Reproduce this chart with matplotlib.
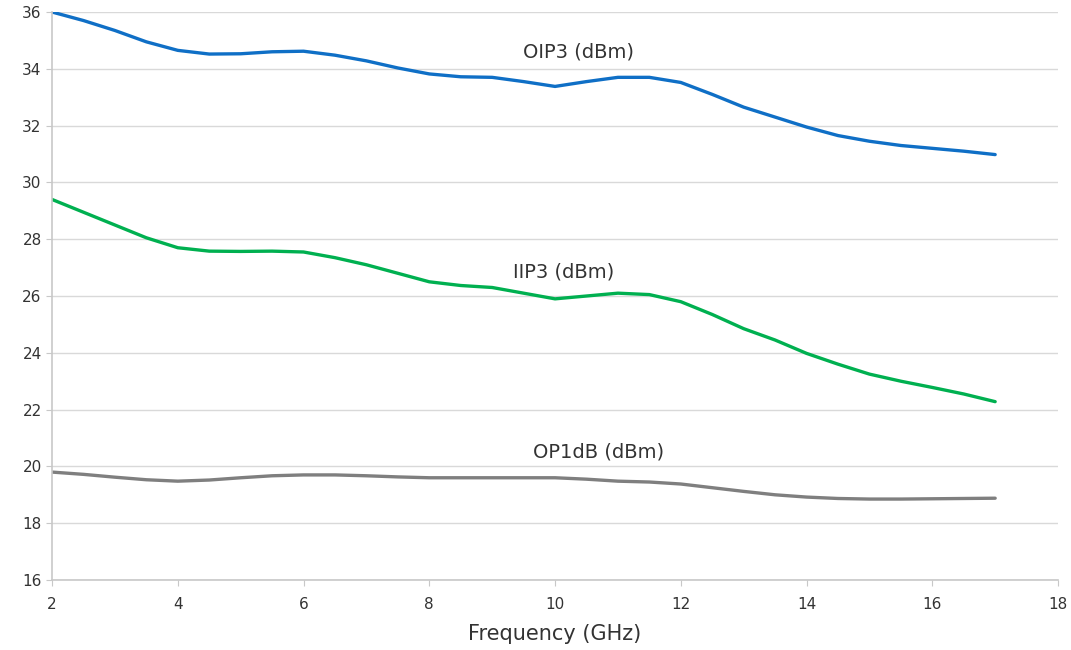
import numpy as np
import matplotlib
matplotlib.use('Agg')
import matplotlib.pyplot as plt

# frequency points (GHz), 0.5 GHz step
freq = np.arange(2.0, 17.01, 0.5)

oip3 = [36.0, 35.7, 35.35, 34.95, 34.65, 34.52, 34.53, 34.6, 34.62, 34.48,
        34.28, 34.03, 33.82, 33.72, 33.7, 33.55, 33.38, 33.55, 33.7, 33.7,
        33.52, 33.1, 32.65, 32.3, 31.95, 31.65, 31.45, 31.3, 31.2, 31.1, 30.98]

iip3 = [29.4, 28.95, 28.5, 28.05, 27.7, 27.58, 27.57, 27.58, 27.55, 27.35,
        27.1, 26.8, 26.5, 26.37, 26.3, 26.1, 25.9, 26.0, 26.1, 26.05,
        25.8, 25.35, 24.85, 24.45, 23.98, 23.6, 23.25, 23.0, 22.78, 22.55, 22.28]

op1db = [19.8, 19.72, 19.62, 19.53, 19.48, 19.52, 19.6, 19.67, 19.7, 19.7,
         19.67, 19.63, 19.6, 19.6, 19.6, 19.6, 19.6, 19.55, 19.48, 19.45,
         19.38, 19.25, 19.12, 19.0, 18.92, 18.87, 18.85, 18.85, 18.86, 18.87, 18.88]

x_ticks = [2, 4, 6, 8, 10, 12, 14, 16, 18]
y_ticks = [16, 18, 20, 22, 24, 26, 28, 30, 32, 34, 36]

plt.rcParams['font.family'] = ['DejaVu Sans']

fig = plt.figure(figsize=(10.71, 6.5), dpi=100)
ax = fig.add_axes([0.0486, 0.1077, 0.9393, 0.8738])

line_kw = dict(linewidth=2.4, solid_capstyle='round', solid_joinstyle='round')
ax.plot(freq, oip3, color='#0F6FC6', **line_kw)
ax.plot(freq, iip3, color='#00B050', **line_kw)
ax.plot(freq, op1db, color='#7F7F7F', **line_kw)

ax.text(10.38, 34.6, 'OIP3 (dBm)', fontsize=14, color='#333333', ha='center', va='center')
ax.text(10.14, 26.85, 'IIP3 (dBm)', fontsize=14, color='#333333', ha='center', va='center')
ax.text(10.7, 20.5, 'OP1dB (dBm)', fontsize=14, color='#333333', ha='center', va='center')

ax.set_xlim(2, 18)
ax.set_ylim(16, 36)
ax.set_xticks(x_ticks)
ax.set_yticks(y_ticks)
ax.grid(axis='y', color='#D9D9D9', linewidth=1.0)
ax.set_axisbelow(True)

for side in ['top', 'right']:
    ax.spines[side].set_visible(False)
for side in ['left', 'bottom']:
    ax.spines[side].set_color('#C8C8C8')
    ax.spines[side].set_linewidth(1.2)

ax.tick_params(axis='both', colors='#C8C8C8', labelcolor='#333333', labelsize=11, length=4)
ax.tick_params(axis='x', pad=8)
ax.set_xlabel('Frequency (GHz)', fontsize=15, color='#333333', labelpad=9)

fig.savefig('out.png', dpi=100)
